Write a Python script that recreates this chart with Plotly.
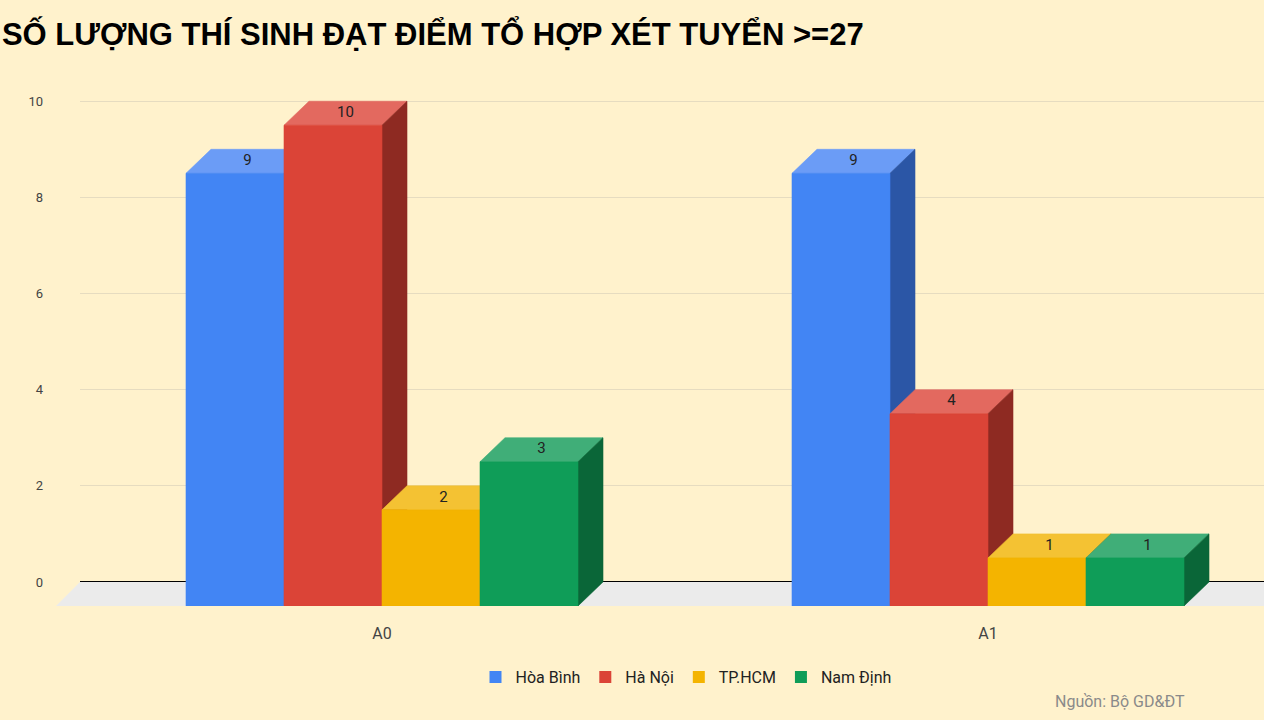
import plotly.graph_objects as go

# ---------------- data ----------------
categories = ["A0", "A1"]
series_names = ["Hòa Bình", "Hà Nội", "TP.HCM", "Nam Định"]
values_hoabinh = [9, 9]
values_hanoi = [10, 4]
values_tphcm = [2, 1]
values_namdinh = [3, 1]
series_values = [values_hoabinh, values_hanoi, values_tphcm, values_namdinh]
y_ticks = [0, 2, 4, 6, 8, 10]

title_text = "SỐ LƯỢNG THÍ SINH ĐẠT ĐIỂM TỔ HỢP XÉT TUYỂN >=27"
source_text = "Nguồn: Bộ GD&ĐT"

# ---------------- style ----------------
front_colors = ["#4285f4", "#db4437", "#f4b400", "#0f9d58"]
top_colors = ["#6b9cf6", "#e3695f", "#f4c233", "#40ae78"]
side_colors = ["#2b56a6", "#8e2a22", "#a37800", "#0a6638"]
bg = "#fff2cc"

W, H = 1264, 720
ML, MR, MT, MB = 80, 0, 82, 114
plot_w = W - ML - MR
plot_h = H - MT - MB
UNIT_X_PX = 606.0            # pixels between category centres
GROUP_CENTER_PX = 382.0      # pixel of first category centre
Y_MIN, Y_MAX = -0.5, 10.4
px_per_y = plot_h / (Y_MAX - Y_MIN)

bar_w = 98.0 / UNIT_X_PX     # width of one bar in x units
depth_x = 25.0 / UNIT_X_PX   # 3D depth offset, x units
depth_y = 24.0 / px_per_y    # 3D depth offset, y units
x_lo = -(GROUP_CENTER_PX - ML) / UNIT_X_PX
x_hi = x_lo + plot_w / UNIT_X_PX

n_series = len(series_values)
fig = go.Figure()

def bar_left(ci, si):
    return ci - n_series * bar_w / 2 + si * bar_w

base = -depth_y  # front face bottom
label_x, label_y, label_t = [], [], []

for si, vals in enumerate(series_values):
    tx, ty, sx, sy, fx, fy = [], [], [], [], [], []
    for ci, v in enumerate(vals):
        x0 = bar_left(ci, si)
        x1 = x0 + bar_w
        ftop = v - depth_y
        # top face
        tx += [x0, x1, x1 + depth_x, x0 + depth_x, x0, None]
        ty += [ftop, ftop, v, v, ftop, None]
        # right side face
        sx += [x1, x1 + depth_x, x1 + depth_x, x1, x1, None]
        sy += [base, base + depth_y, v, ftop, base, None]
        # front face
        fx += [x0, x1, x1, x0, x0, None]
        fy += [base, base, ftop, ftop, base, None]
        label_x.append(x0 + bar_w / 2 + depth_x / 2)
        label_y.append(v - depth_y / 2)
        label_t.append(str(v))
    for xs, ys, col in ((tx, ty, top_colors[si]), (sx, sy, side_colors[si]), (fx, fy, front_colors[si])):
        fig.add_trace(go.Scatter(x=xs, y=ys, mode="lines", fill="toself", fillcolor=col,
                                 line=dict(color=col, width=0.6), hoverinfo="skip",
                                 showlegend=False))

# value labels
fig.add_trace(go.Scatter(x=label_x, y=label_y, text=label_t, mode="text",
                         textfont=dict(family="Roboto, Arial, sans-serif", size=15, color="#222222"),
                         hoverinfo="skip", showlegend=False, cliponaxis=False))

# legend entries
for si, name in enumerate(series_names):
    fig.add_trace(go.Scatter(x=[None], y=[None], mode="markers", name=name,
                             marker=dict(symbol="square", size=12, color=front_colors[si])))

# floor (3D base plane)
floor_top = depth_y / (Y_MAX - Y_MIN)
floor_left = -24.0 / plot_w
fig.add_shape(type="path", xref="paper", yref="paper",
              path=f"M 0 {floor_top} L 1 {floor_top} L 1 0 L {floor_left} 0 Z",
              fillcolor="#ebebeb", line=dict(width=0), layer="below")

fig.update_layout(
    width=W, height=H,
    paper_bgcolor=bg, plot_bgcolor="rgba(0,0,0,0)",
    margin=dict(l=ML, r=MR, t=MT, b=MB),
    title=dict(text=f"<b>{title_text}</b>", x=0.0015, xanchor="left", xref="container",
               y=1 - 34 / H, yanchor="middle", yref="container",
               font=dict(family="Liberation Sans, Arial, sans-serif",
                         size=31, color="#000000")),
    xaxis=dict(range=[x_lo, x_hi], tickvals=list(range(len(categories))), ticktext=categories,
               showgrid=False, zeroline=False, showline=False, ticks="",
               tickfont=dict(family="Roboto, Arial, sans-serif", size=16, color="#444444"),
               ticklabelstandoff=16, fixedrange=True),
    yaxis=dict(range=[Y_MIN, Y_MAX], tickvals=y_ticks, showgrid=True, gridcolor="#e6dcc0",
               gridwidth=1, zeroline=True, zerolinecolor="#000000", zerolinewidth=1,
               showline=False, ticks="", ticklabelstandoff=36,
               tickfont=dict(family="Roboto, Arial, sans-serif", size=13, color="#444444"),
               fixedrange=True),
    legend=dict(orientation="h", x=(686 - ML) / plot_w, xanchor="center",
                y=(606 - 677) / plot_h, yanchor="middle", bgcolor="rgba(0,0,0,0)",
                font=dict(family="Roboto, Arial, sans-serif", size=16, color="#222222"),
                itemwidth=30),
    showlegend=True,
    annotations=[dict(text=source_text, xref="paper", yref="paper",
                      x=(1187 - ML) / plot_w, xanchor="right",
                      y=(606 - 701) / plot_h, yanchor="middle", showarrow=False,
                      font=dict(family="Roboto, Arial, sans-serif", size=16, color="#8a8a8a"))],
)

fig.write_html("out.html", config={"displayModeBar": False},
               post_script="document.body.style.margin='0';document.body.style.background='%s';" % bg)
